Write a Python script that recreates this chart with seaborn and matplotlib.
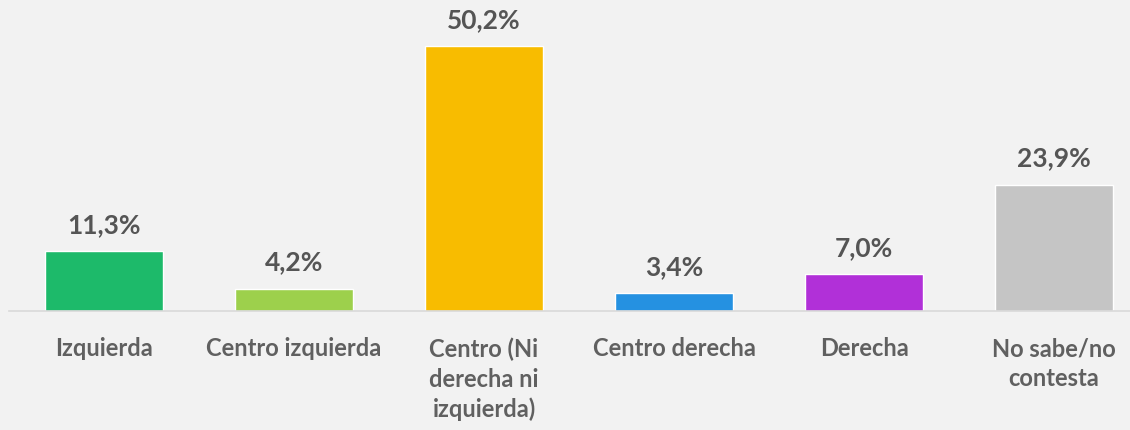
import pandas as pd
import numpy as np
from matplotlib import pyplot as plt
import seaborn as sb

# data
categorias = ["Izquierda", "Centro izquierda", "Centro (Ni\nderecha ni\nizquierda)",
              "Centro derecha", "Derecha", "No sabe/no\ncontesta"]
porcentajes = [11.3, 4.2, 50.2, 3.4, 7.0, 23.9]
colores = ["#1dba6a", "#9dd04c", "#f8bc00", "#2591e1", "#b130d8", "#c5c5c5"]

data_frame = pd.DataFrame({"cat": categorias, "pct": porcentajes})

sb.set_style("white")
plt.rcParams['font.family'] = ['Lato', 'DejaVu Sans']
plt.rcParams['font.weight'] = 'bold'

fig = plt.figure(figsize=(11.3, 4.3), dpi=100)
fig.patch.set_facecolor("#f2f2f2")
ax = fig.add_axes([9 / 1130, 119 / 430, 1121 / 1130, 311 / 430])
ax.set_facecolor("#f2f2f2")

sb.barplot(data=data_frame, x="cat", y="pct", hue="cat", palette=colores,
           legend=False, width=0.62, saturation=1, ax=ax)

# value labels above each bar
for i, v in enumerate(porcentajes):
    ax.text(i, v + 2.7, f"{v:.1f}%".replace(".", ","), ha="center", va="bottom",
            fontsize=19, fontweight="bold", color="#555555")

# category labels under the axis line (wrapped, wider line spacing)
for i, c in enumerate(categorias):
    ax.annotate(c, xy=(i, 0), xytext=(0, -19), textcoords="offset points",
                ha="center", va="top", fontsize=17, fontweight="bold",
                color="#606060", linespacing=1.35, annotation_clip=False)

ax.set_xlim(-0.5, 5.4)
ax.set_ylim(0, 58.9)
ax.set_xlabel("")
ax.set_ylabel("")
ax.set_yticks([])
ax.set_xticks([])
for s in ["top", "left", "right"]:
    ax.spines[s].set_visible(False)
ax.spines["bottom"].set_color("#d9d9d9")
ax.spines["bottom"].set_linewidth(1.2)

plt.savefig("out.png", dpi=100, facecolor=fig.get_facecolor())
